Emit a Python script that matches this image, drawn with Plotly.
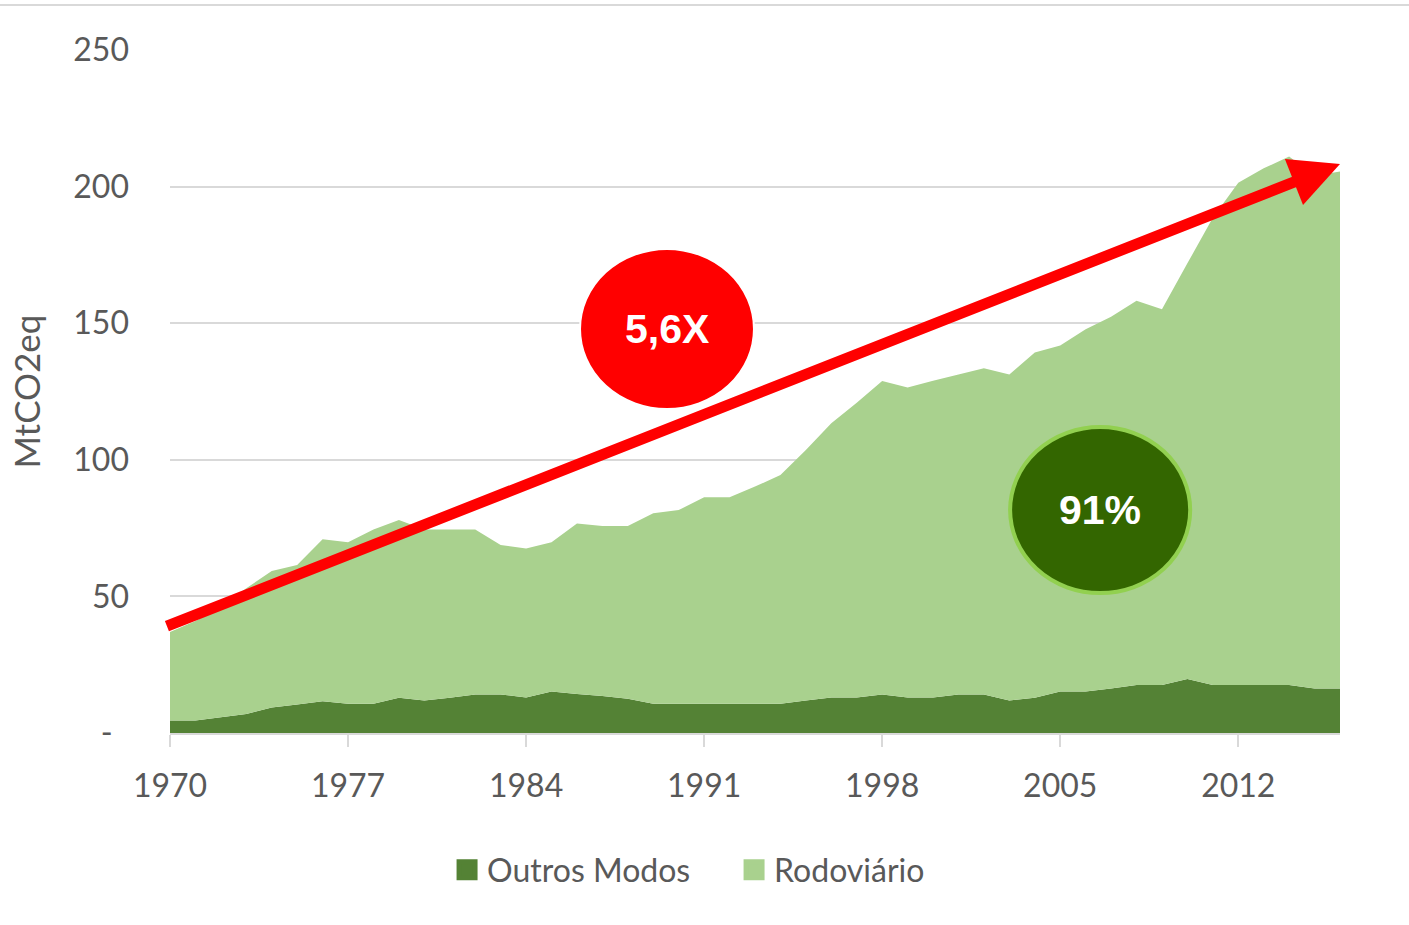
import plotly.graph_objects as go

years = list(range(1970, 2017))
outros_modos = [4.6, 4.6, 5.8, 7.0, 9.3, 10.4, 11.6, 10.7, 10.7, 12.9,
                11.9, 12.9, 14.1, 14.1, 13.0, 15.2, 14.3, 13.5, 12.5, 10.7,
                10.7, 10.7, 10.7, 10.7, 10.7, 11.9, 13.0, 13.0, 14.1, 13.0,
                13.0, 14.1, 14.1, 11.9, 12.9, 15.2, 15.2, 16.3, 17.6, 17.6,
                19.8, 17.6, 17.6, 17.6, 17.6, 16.3, 16.3]
rodoviario = [32.4, 36.4, 40.2, 46.0, 50.0, 51.1, 59.3, 59.1, 63.8, 65.1,
              62.6, 61.6, 60.4, 54.7, 54.5, 54.6, 62.4, 62.3, 63.3, 69.7,
              70.9, 75.6, 75.6, 79.5, 83.7, 91.7, 100.4, 107.9, 114.7, 113.5,
              115.9, 117.1, 119.4, 119.3, 126.4, 126.6, 132.6, 136.1, 140.6, 137.5,
              152.1, 171.0, 183.8, 189.1, 193.4, 187.7, 189.2]
series_names = ["Outros Modos", "Rodoviário"]
series_colors = ["#548235", "#A9D18E"]
x_ticks = [1970, 1977, 1984, 1991, 1998, 2005, 2012]
y_ticks = [0, 50, 100, 150, 200, 250]
y_ticktext = ["-\u00a0\u00a0", "50", "100", "150", "200", "250"]
y_title = "MtCO2eq"
growth_label = "5,6X"
share_label = "91%"

# trend arrow endpoints (data space)
arrow_start = (1969.8, 38.8)
arrow_end = (2016.0, 208.3)

FONT = "Lato, 'Open Sans', sans-serif"
GREY = "#595959"
GRID = "#d9d9d9"

fig = go.Figure()
for name, vals, col in zip(series_names, [outros_modos, rodoviario], series_colors):
    fig.add_trace(go.Scatter(
        x=years, y=vals, stackgroup="one", mode="none",
        fillcolor=col, line=dict(width=0), name=name,
        showlegend=False, hoverinfo="skip"))
for name, col in zip(series_names, series_colors):
    fig.add_trace(go.Scatter(
        x=[None], y=[None], mode="markers", name=name,
        marker=dict(symbol="square", size=16, color=col,
                    line=dict(color=col, width=5)),
        showlegend=True))

fig.update_layout(
    width=1409, height=925,
    margin=dict(l=170, r=69, t=50, b=192),
    paper_bgcolor="white", plot_bgcolor="white",
    font=dict(family=FONT, color=GREY, size=32),
    hovermode=False,
    legend=dict(orientation="h", x=0.2368, xanchor="left",
                y=-0.2006, yanchor="middle", traceorder="normal",
                font=dict(family=FONT, size=32, color=GREY),
                entrywidth=242, entrywidthmode="pixels",
                bgcolor="rgba(0,0,0,0)"),
    xaxis=dict(range=[1970, 2016], tickvals=x_ticks, ticks="outside",
               ticklen=12, tickwidth=2, tickcolor=GRID,
               showline=True, linecolor=GRID, linewidth=2,
               showgrid=False, zeroline=False,
               tickfont=dict(family=FONT, size=32, color=GREY),
               ticklabelstandoff=12),
    yaxis=dict(range=[0, 250], tickvals=y_ticks, ticktext=y_ticktext,
               showgrid=True, gridcolor=GRID, gridwidth=2,
               zeroline=False, showline=False, ticks="",
               ticklabelstandoff=40,
               tickfont=dict(family=FONT, size=32, color=GREY),
               title=dict(text=y_title, standoff=22,
                          font=dict(family=FONT, size=35, color=GREY))),
)

# thin frame line at top of the image
fig.add_shape(type="line", xref="paper", yref="paper",
              x0=-0.146, x1=1.06, y0=1.0659, y1=1.0659,
              line=dict(color=GRID, width=2))

# red ellipse
fig.add_shape(type="circle", xref="x", yref="y",
              x0=1986.12, x1=1992.96, y0=118.6, y1=177.2,
              fillcolor="#FF0000", line=dict(color="white", width=2),
              layer="above")
# green ellipse
fig.add_shape(type="circle", xref="x", yref="y",
              x0=2003.03, x1=2010.11, y0=51.2, y1=112.0,
              fillcolor="#336600", line=dict(color="#92D050", width=4),
              layer="above")

fig.add_annotation(x=arrow_end[0], y=arrow_end[1], ax=arrow_start[0], ay=arrow_start[1],
                   xref="x", yref="y", axref="x", ayref="y", text=" ",
                   showarrow=True, arrowhead=2, arrowsize=0.9, arrowwidth=11,
                   arrowcolor="#FF0000", standoff=0, startstandoff=0,
                   font=dict(size=2))

fig.add_annotation(x=1989.54, y=147.9, xref="x", yref="y", text="<b>" + growth_label + "</b>",
                   showarrow=False,
                   font=dict(family="'Liberation Sans', Arial, sans-serif", size=41, color="white"))
fig.add_annotation(x=2006.57, y=81.6, xref="x", yref="y", text="<b>" + share_label + "</b>",
                   showarrow=False,
                   font=dict(family="'Liberation Sans', Arial, sans-serif", size=41, color="white"))

fig.write_html("out.html", config={"displayModeBar": False},
               post_script="document.body.style.margin='0';")
